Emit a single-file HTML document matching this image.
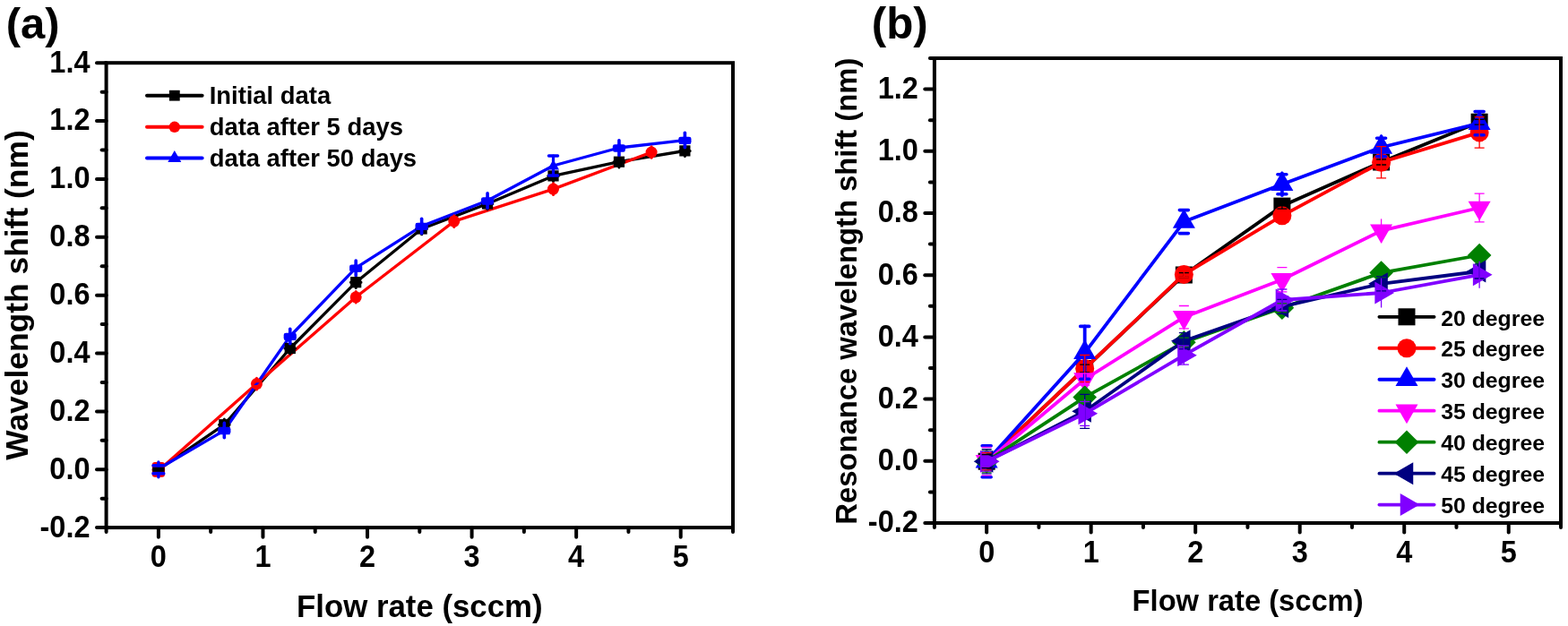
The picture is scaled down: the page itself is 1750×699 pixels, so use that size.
<!DOCTYPE html>
<html lang="en"><head><meta charset="utf-8"><title>Wavelength shift vs flow rate</title>
<style>html,body{margin:0;padding:0;background:#fff;overflow:hidden}svg{display:block}text{font-family:"Liberation Sans", sans-serif;font-weight:bold;fill:#000}</style>
</head><body>
<svg width="1750" height="699" viewBox="0 0 1750 699" role="img" aria-label="Wavelength shift versus flow rate">
<rect width="1750" height="699" fill="#fff"/>
<g id="chart-a">
<rect x="118.6" y="70.2" width="699.40" height="518.90" fill="none" stroke="#000" stroke-width="4.0" stroke-linejoin="miter"/>
<line x1="118.60" y1="589.1" x2="118.60" y2="594.10" stroke="#000" stroke-width="4.0" stroke-linecap="round"/>
<line x1="176.88" y1="589.1" x2="176.88" y2="599.70" stroke="#000" stroke-width="4.0" stroke-linecap="round"/>
<text transform="translate(176.88 633) scale(1 1.085)" font-size="32.5" text-anchor="middle">0</text>
<line x1="235.17" y1="589.1" x2="235.17" y2="594.10" stroke="#000" stroke-width="4.0" stroke-linecap="round"/>
<line x1="293.45" y1="589.1" x2="293.45" y2="599.70" stroke="#000" stroke-width="4.0" stroke-linecap="round"/>
<text transform="translate(293.45 633) scale(1 1.085)" font-size="32.5" text-anchor="middle">1</text>
<line x1="351.73" y1="589.1" x2="351.73" y2="594.10" stroke="#000" stroke-width="4.0" stroke-linecap="round"/>
<line x1="410.02" y1="589.1" x2="410.02" y2="599.70" stroke="#000" stroke-width="4.0" stroke-linecap="round"/>
<text transform="translate(410.02 633) scale(1 1.085)" font-size="32.5" text-anchor="middle">2</text>
<line x1="468.30" y1="589.1" x2="468.30" y2="594.10" stroke="#000" stroke-width="4.0" stroke-linecap="round"/>
<line x1="526.58" y1="589.1" x2="526.58" y2="599.70" stroke="#000" stroke-width="4.0" stroke-linecap="round"/>
<text transform="translate(526.58 633) scale(1 1.085)" font-size="32.5" text-anchor="middle">3</text>
<line x1="584.87" y1="589.1" x2="584.87" y2="594.10" stroke="#000" stroke-width="4.0" stroke-linecap="round"/>
<line x1="643.15" y1="589.1" x2="643.15" y2="599.70" stroke="#000" stroke-width="4.0" stroke-linecap="round"/>
<text transform="translate(643.15 633) scale(1 1.085)" font-size="32.5" text-anchor="middle">4</text>
<line x1="701.43" y1="589.1" x2="701.43" y2="594.10" stroke="#000" stroke-width="4.0" stroke-linecap="round"/>
<line x1="759.72" y1="589.1" x2="759.72" y2="599.70" stroke="#000" stroke-width="4.0" stroke-linecap="round"/>
<text transform="translate(759.72 633) scale(1 1.085)" font-size="32.5" text-anchor="middle">5</text>
<line x1="818.00" y1="589.1" x2="818.00" y2="594.10" stroke="#000" stroke-width="4.0" stroke-linecap="round"/>
<line x1="118.6" y1="589.10" x2="108.00" y2="589.10" stroke="#000" stroke-width="4.0" stroke-linecap="round"/>
<text transform="translate(100.50 599.50) scale(1 1.085)" font-size="32.5" text-anchor="end">-0.2</text>
<line x1="118.6" y1="556.67" x2="113.60" y2="556.67" stroke="#000" stroke-width="4.0" stroke-linecap="round"/>
<line x1="118.6" y1="524.24" x2="108.00" y2="524.24" stroke="#000" stroke-width="4.0" stroke-linecap="round"/>
<text transform="translate(100.50 534.64) scale(1 1.085)" font-size="32.5" text-anchor="end">0.0</text>
<line x1="118.6" y1="491.81" x2="113.60" y2="491.81" stroke="#000" stroke-width="4.0" stroke-linecap="round"/>
<line x1="118.6" y1="459.38" x2="108.00" y2="459.38" stroke="#000" stroke-width="4.0" stroke-linecap="round"/>
<text transform="translate(100.50 469.78) scale(1 1.085)" font-size="32.5" text-anchor="end">0.2</text>
<line x1="118.6" y1="426.94" x2="113.60" y2="426.94" stroke="#000" stroke-width="4.0" stroke-linecap="round"/>
<line x1="118.6" y1="394.51" x2="108.00" y2="394.51" stroke="#000" stroke-width="4.0" stroke-linecap="round"/>
<text transform="translate(100.50 404.91) scale(1 1.085)" font-size="32.5" text-anchor="end">0.4</text>
<line x1="118.6" y1="362.08" x2="113.60" y2="362.08" stroke="#000" stroke-width="4.0" stroke-linecap="round"/>
<line x1="118.6" y1="329.65" x2="108.00" y2="329.65" stroke="#000" stroke-width="4.0" stroke-linecap="round"/>
<text transform="translate(100.50 340.05) scale(1 1.085)" font-size="32.5" text-anchor="end">0.6</text>
<line x1="118.6" y1="297.22" x2="113.60" y2="297.22" stroke="#000" stroke-width="4.0" stroke-linecap="round"/>
<line x1="118.6" y1="264.79" x2="108.00" y2="264.79" stroke="#000" stroke-width="4.0" stroke-linecap="round"/>
<text transform="translate(100.50 275.19) scale(1 1.085)" font-size="32.5" text-anchor="end">0.8</text>
<line x1="118.6" y1="232.36" x2="113.60" y2="232.36" stroke="#000" stroke-width="4.0" stroke-linecap="round"/>
<line x1="118.6" y1="199.93" x2="108.00" y2="199.93" stroke="#000" stroke-width="4.0" stroke-linecap="round"/>
<text transform="translate(100.50 210.33) scale(1 1.085)" font-size="32.5" text-anchor="end">1.0</text>
<line x1="118.6" y1="167.49" x2="113.60" y2="167.49" stroke="#000" stroke-width="4.0" stroke-linecap="round"/>
<line x1="118.6" y1="135.06" x2="108.00" y2="135.06" stroke="#000" stroke-width="4.0" stroke-linecap="round"/>
<text transform="translate(100.50 145.46) scale(1 1.085)" font-size="32.5" text-anchor="end">1.2</text>
<line x1="118.6" y1="102.63" x2="113.60" y2="102.63" stroke="#000" stroke-width="4.0" stroke-linecap="round"/>
<line x1="118.6" y1="70.20" x2="108.00" y2="70.20" stroke="#000" stroke-width="4.0" stroke-linecap="round"/>
<text transform="translate(100.50 80.60) scale(1 1.085)" font-size="32.5" text-anchor="end">1.4</text>
<text x="6.8" y="43" font-size="49">(a)</text>
<text x="468.3" y="689.4" font-size="34.8" text-anchor="middle">Flow rate (sccm)</text>
<text transform="translate(31.1 329.5) rotate(-90)" font-size="35.4" text-anchor="middle">Wavelength shift (nm)</text>
<polyline points="176.88,524.40 250.32,474.20 323.76,389.00 397.19,315.20 470.63,255.50 544.07,227.50 617.51,196.40 690.94,180.70 764.38,168.40" fill="none" stroke="#000" stroke-width="3.3" stroke-linejoin="round" stroke-linecap="round"/>
<polyline points="176.88,525.50 286.46,428.60 397.19,331.80 506.77,247.10 617.51,211.10 727.08,170.00" fill="none" stroke="#f00" stroke-width="3.3" stroke-linejoin="round" stroke-linecap="round"/>
<polyline points="176.88,523.50 250.32,480.60 323.76,375.50 397.19,299.20 470.63,252.50 544.07,224.00 617.51,185.00 690.94,165.00 764.38,156.50" fill="none" stroke="#00f" stroke-width="3.3" stroke-linejoin="round" stroke-linecap="round"/>
<rect x="170.78" y="518.30" width="12.20" height="12.20" fill="#000"/>
<path d="M176.88 518.20V530.60M171.08 524.40H182.68" fill="none" stroke="#000" stroke-width="3.0" stroke-linecap="round"/>
<rect x="244.22" y="468.10" width="12.20" height="12.20" fill="#000"/>
<path d="M250.32 468.00V480.40M244.52 474.20H256.12" fill="none" stroke="#000" stroke-width="3.0" stroke-linecap="round"/>
<rect x="317.66" y="382.90" width="12.20" height="12.20" fill="#000"/>
<path d="M323.76 382.80V395.20M317.96 389.00H329.56" fill="none" stroke="#000" stroke-width="3.0" stroke-linecap="round"/>
<rect x="391.09" y="309.10" width="12.20" height="12.20" fill="#000"/>
<path d="M397.19 309.00V321.40M391.39 315.20H402.99" fill="none" stroke="#000" stroke-width="3.0" stroke-linecap="round"/>
<rect x="464.53" y="249.40" width="12.20" height="12.20" fill="#000"/>
<path d="M470.63 249.30V261.70M464.83 255.50H476.43" fill="none" stroke="#000" stroke-width="3.0" stroke-linecap="round"/>
<rect x="537.97" y="221.40" width="12.20" height="12.20" fill="#000"/>
<path d="M544.07 221.30V233.70M538.27 227.50H549.87" fill="none" stroke="#000" stroke-width="3.0" stroke-linecap="round"/>
<rect x="611.41" y="190.30" width="12.20" height="12.20" fill="#000"/>
<path d="M617.51 190.20V202.60M611.71 196.40H623.31" fill="none" stroke="#000" stroke-width="3.0" stroke-linecap="round"/>
<rect x="684.84" y="174.60" width="12.20" height="12.20" fill="#000"/>
<path d="M690.94 174.50V186.90M685.14 180.70H696.74" fill="none" stroke="#000" stroke-width="3.0" stroke-linecap="round"/>
<rect x="758.28" y="162.30" width="12.20" height="12.20" fill="#000"/>
<path d="M764.38 162.20V174.60M758.58 168.40H770.18" fill="none" stroke="#000" stroke-width="3.0" stroke-linecap="round"/>
<circle cx="176.88" cy="525.50" r="6.50" fill="#f00"/>
<path d="M176.88 519.20V531.80" fill="none" stroke="#f00" stroke-width="3.0" stroke-linecap="round"/>
<circle cx="286.46" cy="428.60" r="6.50" fill="#f00"/>
<path d="M286.46 422.30V434.90" fill="none" stroke="#f00" stroke-width="3.0" stroke-linecap="round"/>
<polygon points="283.26,430.00 285.86,427.20 289.66,427.20 287.06,430.00" fill="#00f"/>
<circle cx="397.19" cy="331.80" r="6.50" fill="#f00"/>
<path d="M397.19 325.50V338.10" fill="none" stroke="#f00" stroke-width="3.0" stroke-linecap="round"/>
<circle cx="506.77" cy="247.10" r="6.50" fill="#f00"/>
<path d="M506.77 240.80V253.40" fill="none" stroke="#f00" stroke-width="3.0" stroke-linecap="round"/>
<circle cx="617.51" cy="211.10" r="6.50" fill="#f00"/>
<path d="M617.51 204.80V217.40" fill="none" stroke="#f00" stroke-width="3.0" stroke-linecap="round"/>
<circle cx="727.08" cy="170.00" r="6.50" fill="#f00"/>
<path d="M727.08 163.70V176.30" fill="none" stroke="#f00" stroke-width="3.0" stroke-linecap="round"/>
<rect x="169.83" y="515.90" width="14.1" height="16.8" rx="3" fill="#f00"/>
<path d="M176.88 515.90V532.70" fill="none" stroke="#00f" stroke-width="3.4" stroke-linecap="round"/><path d="M171.13 519.80H182.63M171.13 528.70H182.63" fill="none" stroke="#00f" stroke-width="3.8" stroke-linecap="round"/>
<rect x="170.18" y="521.80" width="13.4" height="5.0" fill="#000"/>
<polygon points="250.32,473.89 243.82,485.15 256.82,485.15" fill="#00f"/>
<rect x="243.22" y="476.80" width="14.2" height="8.2" rx="2.4" fill="#00f"/>
<path d="M250.32 472.40V488.80" fill="none" stroke="#00f" stroke-width="3.6" stroke-linecap="round"/>
<polygon points="323.76,368.79 317.26,380.05 330.26,380.05" fill="#00f"/>
<rect x="316.66" y="371.70" width="14.2" height="8.2" rx="2.4" fill="#00f"/>
<path d="M323.76 367.30V383.70" fill="none" stroke="#00f" stroke-width="3.6" stroke-linecap="round"/>
<polygon points="397.19,292.49 390.69,303.75 403.69,303.75" fill="#00f"/>
<rect x="390.09" y="295.40" width="14.2" height="8.2" rx="2.4" fill="#00f"/>
<path d="M397.19 291.00V307.40" fill="none" stroke="#00f" stroke-width="3.6" stroke-linecap="round"/>
<polygon points="470.63,245.79 464.13,257.05 477.13,257.05" fill="#00f"/>
<rect x="463.53" y="248.70" width="14.2" height="8.2" rx="2.4" fill="#00f"/>
<path d="M470.63 244.30V260.70" fill="none" stroke="#00f" stroke-width="3.6" stroke-linecap="round"/>
<polygon points="544.07,217.29 537.57,228.55 550.57,228.55" fill="#00f"/>
<rect x="536.97" y="220.20" width="14.2" height="8.2" rx="2.4" fill="#00f"/>
<path d="M544.07 215.80V232.20" fill="none" stroke="#00f" stroke-width="3.6" stroke-linecap="round"/>
<polygon points="617.51,178.29 611.01,189.55 624.01,189.55" fill="#00f"/>
<path d="M617.51 174.00V196.00" fill="none" stroke="#00f" stroke-width="3.2" stroke-linecap="round"/><path d="M612.46 174.00H622.56M612.46 196.00H622.56" fill="none" stroke="#00f" stroke-width="3.4" stroke-linecap="round"/>
<polygon points="690.94,158.29 684.44,169.55 697.44,169.55" fill="#00f"/>
<rect x="683.84" y="161.20" width="14.2" height="8.2" rx="2.4" fill="#00f"/>
<path d="M690.94 156.80V173.20" fill="none" stroke="#00f" stroke-width="3.6" stroke-linecap="round"/>
<polygon points="764.38,149.79 757.88,161.05 770.88,161.05" fill="#00f"/>
<rect x="757.28" y="152.70" width="14.2" height="8.2" rx="2.4" fill="#00f"/>
<path d="M764.38 148.30V164.70" fill="none" stroke="#00f" stroke-width="3.6" stroke-linecap="round"/>
<line x1="164.0" y1="106.7" x2="225.6" y2="106.7" stroke="#000" stroke-width="4" stroke-linecap="round"/>
<rect x="188.90" y="100.80" width="11.80" height="11.80" fill="#000"/>
<text x="233.7" y="116.30" font-size="27.4">Initial data</text>
<line x1="164.0" y1="141.8" x2="225.6" y2="141.8" stroke="#f00" stroke-width="4" stroke-linecap="round"/>
<circle cx="194.80" cy="141.80" r="6.25" fill="#f00"/>
<text x="233.7" y="151.40" font-size="27.4">data after 5 days</text>
<line x1="164.0" y1="176.6" x2="225.6" y2="176.6" stroke="#00f" stroke-width="4" stroke-linecap="round"/>
<polygon points="194.80,167.94 187.30,180.93 202.30,180.93" fill="#00f"/>
<text x="233.7" y="186.20" font-size="27.4">data after 50 days</text>
</g>
<g id="chart-b">
<rect x="1042.9" y="65.0" width="699.10" height="519.00" fill="none" stroke="#000" stroke-width="4.0" stroke-linejoin="miter"/>
<line x1="1042.90" y1="584.0" x2="1042.90" y2="589.00" stroke="#000" stroke-width="4.0" stroke-linecap="round"/>
<line x1="1101.16" y1="584.0" x2="1101.16" y2="594.60" stroke="#000" stroke-width="4.0" stroke-linecap="round"/>
<text transform="translate(1101.16 628) scale(1 1.085)" font-size="32.5" text-anchor="middle">0</text>
<line x1="1159.42" y1="584.0" x2="1159.42" y2="589.00" stroke="#000" stroke-width="4.0" stroke-linecap="round"/>
<line x1="1217.67" y1="584.0" x2="1217.67" y2="594.60" stroke="#000" stroke-width="4.0" stroke-linecap="round"/>
<text transform="translate(1217.67 628) scale(1 1.085)" font-size="32.5" text-anchor="middle">1</text>
<line x1="1275.93" y1="584.0" x2="1275.93" y2="589.00" stroke="#000" stroke-width="4.0" stroke-linecap="round"/>
<line x1="1334.19" y1="584.0" x2="1334.19" y2="594.60" stroke="#000" stroke-width="4.0" stroke-linecap="round"/>
<text transform="translate(1334.19 628) scale(1 1.085)" font-size="32.5" text-anchor="middle">2</text>
<line x1="1392.45" y1="584.0" x2="1392.45" y2="589.00" stroke="#000" stroke-width="4.0" stroke-linecap="round"/>
<line x1="1450.71" y1="584.0" x2="1450.71" y2="594.60" stroke="#000" stroke-width="4.0" stroke-linecap="round"/>
<text transform="translate(1450.71 628) scale(1 1.085)" font-size="32.5" text-anchor="middle">3</text>
<line x1="1508.97" y1="584.0" x2="1508.97" y2="589.00" stroke="#000" stroke-width="4.0" stroke-linecap="round"/>
<line x1="1567.22" y1="584.0" x2="1567.22" y2="594.60" stroke="#000" stroke-width="4.0" stroke-linecap="round"/>
<text transform="translate(1567.22 628) scale(1 1.085)" font-size="32.5" text-anchor="middle">4</text>
<line x1="1625.48" y1="584.0" x2="1625.48" y2="589.00" stroke="#000" stroke-width="4.0" stroke-linecap="round"/>
<line x1="1683.74" y1="584.0" x2="1683.74" y2="594.60" stroke="#000" stroke-width="4.0" stroke-linecap="round"/>
<text transform="translate(1683.74 628) scale(1 1.085)" font-size="32.5" text-anchor="middle">5</text>
<line x1="1742.00" y1="584.0" x2="1742.00" y2="589.00" stroke="#000" stroke-width="4.0" stroke-linecap="round"/>
<line x1="1042.9" y1="584.00" x2="1032.30" y2="584.00" stroke="#000" stroke-width="4.0" stroke-linecap="round"/>
<text transform="translate(1024.80 594.40) scale(1 1.085)" font-size="32.5" text-anchor="end">-0.2</text>
<line x1="1042.9" y1="549.40" x2="1037.90" y2="549.40" stroke="#000" stroke-width="4.0" stroke-linecap="round"/>
<line x1="1042.9" y1="514.80" x2="1032.30" y2="514.80" stroke="#000" stroke-width="4.0" stroke-linecap="round"/>
<text transform="translate(1024.80 525.20) scale(1 1.085)" font-size="32.5" text-anchor="end">0.0</text>
<line x1="1042.9" y1="480.20" x2="1037.90" y2="480.20" stroke="#000" stroke-width="4.0" stroke-linecap="round"/>
<line x1="1042.9" y1="445.60" x2="1032.30" y2="445.60" stroke="#000" stroke-width="4.0" stroke-linecap="round"/>
<text transform="translate(1024.80 456.00) scale(1 1.085)" font-size="32.5" text-anchor="end">0.2</text>
<line x1="1042.9" y1="411.00" x2="1037.90" y2="411.00" stroke="#000" stroke-width="4.0" stroke-linecap="round"/>
<line x1="1042.9" y1="376.40" x2="1032.30" y2="376.40" stroke="#000" stroke-width="4.0" stroke-linecap="round"/>
<text transform="translate(1024.80 386.80) scale(1 1.085)" font-size="32.5" text-anchor="end">0.4</text>
<line x1="1042.9" y1="341.80" x2="1037.90" y2="341.80" stroke="#000" stroke-width="4.0" stroke-linecap="round"/>
<line x1="1042.9" y1="307.20" x2="1032.30" y2="307.20" stroke="#000" stroke-width="4.0" stroke-linecap="round"/>
<text transform="translate(1024.80 317.60) scale(1 1.085)" font-size="32.5" text-anchor="end">0.6</text>
<line x1="1042.9" y1="272.60" x2="1037.90" y2="272.60" stroke="#000" stroke-width="4.0" stroke-linecap="round"/>
<line x1="1042.9" y1="238.00" x2="1032.30" y2="238.00" stroke="#000" stroke-width="4.0" stroke-linecap="round"/>
<text transform="translate(1024.80 248.40) scale(1 1.085)" font-size="32.5" text-anchor="end">0.8</text>
<line x1="1042.9" y1="203.40" x2="1037.90" y2="203.40" stroke="#000" stroke-width="4.0" stroke-linecap="round"/>
<line x1="1042.9" y1="168.80" x2="1032.30" y2="168.80" stroke="#000" stroke-width="4.0" stroke-linecap="round"/>
<text transform="translate(1024.80 179.20) scale(1 1.085)" font-size="32.5" text-anchor="end">1.0</text>
<line x1="1042.9" y1="134.20" x2="1037.90" y2="134.20" stroke="#000" stroke-width="4.0" stroke-linecap="round"/>
<line x1="1042.9" y1="99.60" x2="1032.30" y2="99.60" stroke="#000" stroke-width="4.0" stroke-linecap="round"/>
<text transform="translate(1024.80 110.00) scale(1 1.085)" font-size="32.5" text-anchor="end">1.2</text>
<line x1="1042.9" y1="65.00" x2="1037.90" y2="65.00" stroke="#000" stroke-width="4.0" stroke-linecap="round"/>
<text x="972.8" y="42.6" font-size="49.3">(b)</text>
<text x="1392.6" y="682.1" font-size="32.7" text-anchor="middle">Flow rate (sccm)</text>
<text transform="translate(956 325.2) rotate(-90)" font-size="32.8" text-anchor="middle">Resonance wavelength shift (nm)</text>
<polyline points="1101.16,515.20 1210.68,411.50 1321.37,307.00 1430.90,230.10 1541.59,181.00 1651.12,136.20" fill="none" stroke="#000" stroke-width="3.8" stroke-linejoin="round" stroke-linecap="round"/>
<rect x="1091.66" y="505.70" width="19.00" height="19.00" fill="#000"/>
<rect x="1201.18" y="402.00" width="19.00" height="19.00" fill="#000"/>
<rect x="1311.87" y="297.50" width="19.00" height="19.00" fill="#000"/>
<rect x="1421.40" y="220.60" width="19.00" height="19.00" fill="#000"/>
<rect x="1532.09" y="171.50" width="19.00" height="19.00" fill="#000"/>
<rect x="1641.62" y="126.70" width="19.00" height="19.00" fill="#000"/>
<polyline points="1101.16,515.20 1210.68,411.50 1321.37,306.40 1430.90,240.80 1541.59,181.30 1651.12,147.90" fill="none" stroke="#f00" stroke-width="3.8" stroke-linejoin="round" stroke-linecap="round"/>
<circle cx="1101.16" cy="515.20" r="10.50" fill="#f00"/>
<circle cx="1210.68" cy="411.50" r="10.50" fill="#f00"/>
<circle cx="1321.37" cy="306.40" r="10.50" fill="#f00"/>
<circle cx="1430.90" cy="240.80" r="10.50" fill="#f00"/>
<circle cx="1541.59" cy="181.30" r="10.50" fill="#f00"/>
<circle cx="1651.12" cy="147.90" r="10.50" fill="#f00"/>
<polyline points="1101.16,515.20 1210.68,393.80 1321.37,247.60 1430.90,205.70 1541.59,164.50 1651.12,137.70" fill="none" stroke="#00f" stroke-width="3.8" stroke-linejoin="round" stroke-linecap="round"/>
<polygon points="1101.16,500.77 1088.66,522.42 1113.66,522.42" fill="#00f"/>
<polygon points="1210.68,379.37 1198.18,401.02 1223.18,401.02" fill="#00f"/>
<polygon points="1321.37,233.17 1308.87,254.82 1333.87,254.82" fill="#00f"/>
<polygon points="1430.90,191.27 1418.40,212.92 1443.40,212.92" fill="#00f"/>
<polygon points="1541.59,150.07 1529.09,171.72 1554.09,171.72" fill="#00f"/>
<polygon points="1651.12,123.27 1638.62,144.92 1663.62,144.92" fill="#00f"/>
<polyline points="1101.16,515.20 1210.68,423.50 1321.37,354.20 1430.90,312.20 1541.59,257.60 1651.12,232.00" fill="none" stroke="#f0f" stroke-width="3.8" stroke-linejoin="round" stroke-linecap="round"/>
<polygon points="1101.16,529.63 1088.66,507.98 1113.66,507.98" fill="#f0f"/>
<polygon points="1210.68,437.93 1198.18,416.28 1223.18,416.28" fill="#f0f"/>
<polygon points="1321.37,368.63 1308.87,346.98 1333.87,346.98" fill="#f0f"/>
<polygon points="1430.90,326.63 1418.40,304.98 1443.40,304.98" fill="#f0f"/>
<polygon points="1541.59,272.03 1529.09,250.38 1554.09,250.38" fill="#f0f"/>
<polygon points="1651.12,246.43 1638.62,224.78 1663.62,224.78" fill="#f0f"/>
<polyline points="1101.16,515.20 1210.68,443.60 1321.37,382.20 1430.90,343.80 1541.59,304.60 1651.12,285.00" fill="none" stroke="#008000" stroke-width="3.8" stroke-linejoin="round" stroke-linecap="round"/>
<polygon points="1101.16,501.90 1114.46,515.20 1101.16,528.50 1087.86,515.20" fill="#008000"/>
<polygon points="1210.68,430.30 1223.98,443.60 1210.68,456.90 1197.38,443.60" fill="#008000"/>
<polygon points="1321.37,368.90 1334.67,382.20 1321.37,395.50 1308.07,382.20" fill="#008000"/>
<polygon points="1430.90,330.50 1444.20,343.80 1430.90,357.10 1417.60,343.80" fill="#008000"/>
<polygon points="1541.59,291.30 1554.89,304.60 1541.59,317.90 1528.29,304.60" fill="#008000"/>
<polygon points="1651.12,271.70 1664.42,285.00 1651.12,298.30 1637.82,285.00" fill="#008000"/>
<polyline points="1101.16,515.20 1210.68,459.30 1321.37,380.70 1430.90,342.40 1541.59,316.80 1651.12,303.00" fill="none" stroke="#000080" stroke-width="3.8" stroke-linejoin="round" stroke-linecap="round"/>
<polygon points="1086.72,515.20 1108.38,502.70 1108.38,527.70" fill="#000080"/>
<polygon points="1196.25,459.30 1217.90,446.80 1217.90,471.80" fill="#000080"/>
<polygon points="1306.94,380.70 1328.59,368.20 1328.59,393.20" fill="#000080"/>
<polygon points="1416.47,342.40 1438.12,329.90 1438.12,354.90" fill="#000080"/>
<polygon points="1527.16,316.80 1548.81,304.30 1548.81,329.30" fill="#000080"/>
<polygon points="1636.68,303.00 1658.33,290.50 1658.33,315.50" fill="#000080"/>
<polyline points="1101.16,515.20 1210.68,461.80 1321.37,396.70 1430.90,335.00 1541.59,327.00 1651.12,306.80" fill="none" stroke="#8000ff" stroke-width="3.8" stroke-linejoin="round" stroke-linecap="round"/>
<polygon points="1115.59,515.20 1093.94,502.70 1093.94,527.70" fill="#8000ff"/>
<polygon points="1225.12,461.80 1203.47,449.30 1203.47,474.30" fill="#8000ff"/>
<polygon points="1335.81,396.70 1314.16,384.20 1314.16,409.20" fill="#8000ff"/>
<polygon points="1445.33,335.00 1423.68,322.50 1423.68,347.50" fill="#8000ff"/>
<polygon points="1556.02,327.00 1534.37,314.50 1534.37,339.50" fill="#8000ff"/>
<polygon points="1665.55,306.80 1643.90,294.30 1643.90,319.30" fill="#8000ff"/>
<path d="M1096.16 497.70h10M1096.16 532.70h10" fill="none" stroke="#00f" stroke-width="3.6" stroke-linecap="round"/>
<path d="M1210.68 364.40V423.20" fill="none" stroke="#00f" stroke-width="3.8" stroke-linecap="round"/>
<path d="M1205.68 364.40h10M1205.68 423.20h10" fill="none" stroke="#00f" stroke-width="3.6" stroke-linecap="round"/>
<path d="M1316.37 234.60h10M1316.37 260.60h10" fill="none" stroke="#00f" stroke-width="3.6" stroke-linecap="round"/>
<path d="M1430.90 193.30V218.10" fill="none" stroke="#00f" stroke-width="3.8" stroke-linecap="round"/>
<path d="M1425.90 194.70h10M1425.90 216.70h10" fill="none" stroke="#00f" stroke-width="3.6" stroke-linecap="round"/>
<path d="M1541.59 152.10V176.90" fill="none" stroke="#00f" stroke-width="3.8" stroke-linecap="round"/>
<path d="M1536.59 154.20h10M1536.59 174.80h10" fill="none" stroke="#00f" stroke-width="3.6" stroke-linecap="round"/>
<path d="M1646.12 124.60h10M1646.12 150.80h10" fill="none" stroke="#00f" stroke-width="3.6" stroke-linecap="round"/>
<path d="M1095.66 507.70h11M1095.66 522.70h11" fill="none" stroke="#000" stroke-width="1.3"/>
<path d="M1210.68 407.20V415.80M1205.18 407.20h11M1205.18 415.80h11" fill="none" stroke="#000" stroke-width="1.3"/>
<path d="M1321.37 304.50V309.50M1315.87 304.50h11M1315.87 309.50h11" fill="none" stroke="#000" stroke-width="1.3"/>
<path d="M1430.90 227.10V233.10M1425.40 227.10h11M1425.40 233.10h11" fill="none" stroke="#000" stroke-width="1.3"/>
<path d="M1541.59 178.00V184.00M1536.09 178.00h11M1536.09 184.00h11" fill="none" stroke="#000" stroke-width="1.3"/>
<path d="M1651.12 133.30V139.10M1645.62 133.30h11M1645.62 139.10h11" fill="none" stroke="#000" stroke-width="1.3"/>
<path d="M1095.66 505.60h11M1095.66 524.80h11" fill="none" stroke="#f00" stroke-width="1.3"/>
<path d="M1210.68 396.50V426.50M1205.18 396.50h11M1205.18 426.50h11" fill="none" stroke="#f00" stroke-width="1.3"/>
<path d="M1321.37 303.40V309.40M1315.87 303.40h11M1315.87 309.40h11" fill="none" stroke="#f00" stroke-width="1.3"/>
<path d="M1430.90 236.30V245.30M1425.40 236.30h11M1425.40 245.30h11" fill="none" stroke="#f00" stroke-width="1.3"/>
<path d="M1541.59 163.70V198.90M1536.09 163.70h11M1536.09 198.90h11" fill="none" stroke="#f00" stroke-width="1.3"/>
<path d="M1651.12 130.60V165.20M1645.62 130.60h11M1645.62 165.20h11" fill="none" stroke="#f00" stroke-width="1.3"/>
<path d="M1095.66 499.50h11M1095.66 530.90h11" fill="none" stroke="#f0f" stroke-width="1.3"/>
<path d="M1210.68 416.80V430.20M1205.18 416.80h11M1205.18 430.20h11" fill="none" stroke="#f0f" stroke-width="1.3"/>
<path d="M1315.87 341.50h11M1315.87 366.90h11" fill="none" stroke="#f0f" stroke-width="1.3"/>
<path d="M1425.40 298.60h11M1425.40 325.80h11" fill="none" stroke="#f0f" stroke-width="1.3"/>
<path d="M1541.59 244.40V270.80" fill="none" stroke="#f0f" stroke-width="1.3"/>
<path d="M1651.12 216.10V247.90M1645.62 216.10h11M1645.62 247.90h11" fill="none" stroke="#f0f" stroke-width="1.3"/>
<path d="M1095.66 503.20h11M1095.66 527.20h11" fill="none" stroke="#008000" stroke-width="1.3"/>
<path d="M1210.68 438.30V448.90M1205.18 438.30h11M1205.18 448.90h11" fill="none" stroke="#008000" stroke-width="1.3"/>
<path d="M1321.37 377.20V387.20M1315.87 377.20h11M1315.87 387.20h11" fill="none" stroke="#008000" stroke-width="1.3"/>
<path d="M1430.90 338.80V348.80M1425.40 338.80h11M1425.40 348.80h11" fill="none" stroke="#008000" stroke-width="1.3"/>
<path d="M1541.59 299.60V309.60M1536.09 299.60h11M1536.09 309.60h11" fill="none" stroke="#008000" stroke-width="1.3"/>
<path d="M1651.12 280.00V290.00M1645.62 280.00h11M1645.62 290.00h11" fill="none" stroke="#008000" stroke-width="1.3"/>
<path d="M1095.66 501.60h11M1095.66 528.80h11" fill="none" stroke="#000080" stroke-width="1.3"/>
<path d="M1210.68 440.30V478.30M1205.18 440.30h11M1205.18 478.30h11" fill="none" stroke="#000080" stroke-width="1.3"/>
<path d="M1321.37 371.70V389.70M1315.87 371.70h11M1315.87 389.70h11" fill="none" stroke="#000080" stroke-width="1.3"/>
<path d="M1430.90 334.40V350.40M1425.40 334.40h11M1425.40 350.40h11" fill="none" stroke="#000080" stroke-width="1.3"/>
<path d="M1541.59 308.80V324.80M1536.09 308.80h11M1536.09 324.80h11" fill="none" stroke="#000080" stroke-width="1.3"/>
<path d="M1651.12 295.00V311.00M1645.62 295.00h11M1645.62 311.00h11" fill="none" stroke="#000080" stroke-width="1.3"/>
<path d="M1095.66 504.20h11M1095.66 526.20h11" fill="none" stroke="#8000ff" stroke-width="1.3"/>
<path d="M1210.68 445.80V477.80M1205.18 448.30h11M1205.18 475.30h11" fill="none" stroke="#8000ff" stroke-width="1.3"/>
<path d="M1321.37 386.20V407.20M1315.87 386.20h11M1315.87 407.20h11" fill="none" stroke="#8000ff" stroke-width="1.3"/>
<path d="M1430.90 323.00V347.00M1425.40 323.00h11M1425.40 347.00h11" fill="none" stroke="#8000ff" stroke-width="1.3"/>
<path d="M1541.59 310.50V343.50" fill="none" stroke="#8000ff" stroke-width="1.3"/>
<path d="M1651.12 291.80V321.80" fill="none" stroke="#8000ff" stroke-width="1.3"/>
<line x1="1539.4" y1="353.80" x2="1600.6" y2="353.80" stroke="#000" stroke-width="3.8" stroke-linecap="round"/>
<rect x="1560.50" y="344.30" width="19.00" height="19.00" fill="#000"/>
<text x="1608.2" y="363.50" font-size="24.8">20 degree</text>
<line x1="1539.4" y1="388.77" x2="1600.6" y2="388.77" stroke="#f00" stroke-width="3.8" stroke-linecap="round"/>
<circle cx="1570.00" cy="388.77" r="10.50" fill="#f00"/>
<text x="1608.2" y="398.47" font-size="24.8">25 degree</text>
<line x1="1539.4" y1="423.74" x2="1600.6" y2="423.74" stroke="#00f" stroke-width="3.8" stroke-linecap="round"/>
<polygon points="1570.00,409.31 1557.50,430.96 1582.50,430.96" fill="#00f"/>
<text x="1608.2" y="433.44" font-size="24.8">30 degree</text>
<line x1="1539.4" y1="458.71" x2="1600.6" y2="458.71" stroke="#f0f" stroke-width="3.8" stroke-linecap="round"/>
<polygon points="1570.00,473.14 1557.50,451.49 1582.50,451.49" fill="#f0f"/>
<text x="1608.2" y="468.41" font-size="24.8">35 degree</text>
<line x1="1539.4" y1="493.68" x2="1600.6" y2="493.68" stroke="#008000" stroke-width="3.8" stroke-linecap="round"/>
<polygon points="1570.00,480.38 1583.30,493.68 1570.00,506.98 1556.70,493.68" fill="#008000"/>
<text x="1608.2" y="503.38" font-size="24.8">40 degree</text>
<line x1="1539.4" y1="528.65" x2="1600.6" y2="528.65" stroke="#000080" stroke-width="3.8" stroke-linecap="round"/>
<polygon points="1555.57,528.65 1577.22,516.15 1577.22,541.15" fill="#000080"/>
<text x="1608.2" y="538.35" font-size="24.8">45 degree</text>
<line x1="1539.4" y1="563.62" x2="1600.6" y2="563.62" stroke="#8000ff" stroke-width="3.8" stroke-linecap="round"/>
<polygon points="1584.43,563.62 1562.78,551.12 1562.78,576.12" fill="#8000ff"/>
<text x="1608.2" y="573.32" font-size="24.8">50 degree</text>
</g>
</svg></body></html>
